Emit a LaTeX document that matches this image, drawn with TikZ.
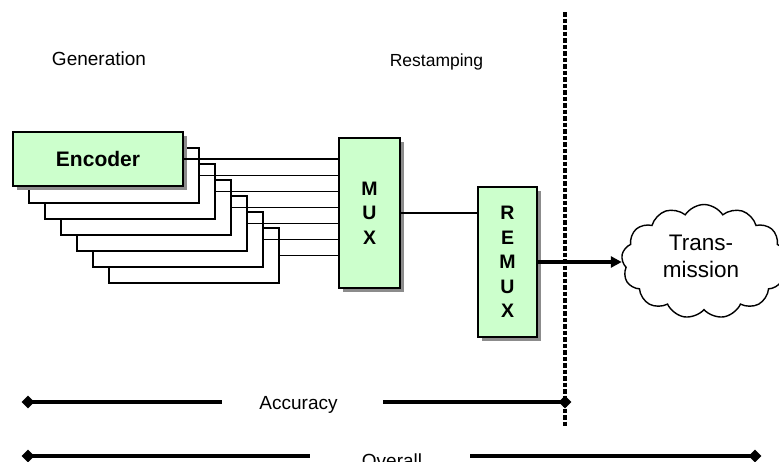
\documentclass[tikz,border=0pt]{standalone}
\usepackage{fontspec}
\setmainfont{Liberation Sans}
\usetikzlibrary{shapes.geometric,shapes.symbols,shadows,arrows.meta}
\definecolor{boxgreen}{RGB}{204,255,204}
\newcommand\lblfont{\fontsize{19}{23}\selectfont}
\newcommand\rstfont{\fontsize{17.5}{21}\selectfont}
\newcommand\encfont{\fontsize{21}{25}\selectfont\bfseries}
\newcommand\muxfont{\fontsize{19.5}{24.5}\selectfont\bfseries}
\newcommand\cloudfont{\fontsize{22.5}{27}\selectfont}
\begin{document}
\begin{tikzpicture}[x=1pt,y=-1pt,
  gbox/.style={draw=black,line width=1.8pt,fill=boxgreen,inner sep=0pt,
    drop shadow={shadow xshift=3.5pt,shadow yshift=-3.5pt,fill=black!45,opacity=1}},
  encframe/.style={draw=black,line width=1.5pt,fill=white,minimum width=170pt,minimum height=55pt,inner sep=0pt},
  wire/.style={draw=black,line width=1.2pt},
  dim/.style={line width=3.5pt},
  dia/.style={diamond,fill=black,inner sep=0pt,minimum width=13pt,minimum height=13pt},
  lbl/.style={font=\lblfont,anchor=base,inner sep=0pt}]
\useasboundingbox (0,0) rectangle (779,461);
% stacked encoder frames
\foreach \i in {6,5,...,1}
  \node[encframe] (f\i) at ({98+16*\i},{159.5+16*\i}) {};
\node[gbox,minimum width=170pt,minimum height=54pt,font=\encfont] (enc) at (98,159) {Encoder};
% MUX and REMUX
\node[gbox,minimum width=61pt,minimum height=150pt,align=center,font=\muxfont] (mux) at (369.5,213) {M\\U\\X};
\node[gbox,minimum width=59pt,minimum height=150pt,align=center,font=\muxfont] (remux) at (507.5,262) {R\\E\\M\\U\\X};
% wires
\draw[wire] (enc.east) -- (enc.east -| mux.west);
\foreach \i in {1,...,6}
  \draw[wire] (f\i.east) -- (f\i.east -| mux.west);
\draw[wire] (mux.east) -- (mux.east -| remux.west);
% cloud
\node[cloud,draw=black,line width=1.4pt,cloud puffs=13,cloud puff arc=115,cloud ignores aspect,
  minimum width=165pt,minimum height=114pt,inner sep=0pt,fill=white] (cl) at (704,261.5) {};
\node[font=\cloudfont,align=center,inner sep=0pt] (tx) at (701,256) {Trans-\\mission};
\draw[line width=3.3pt,-{Triangle[length=11pt,width=11pt]}] (remux.east) -- (remux.east -| cl.west);
% dashed boundary
\coordinate (dtop) at (565,12);
\coordinate (dbot) at (565,426);
\draw[line width=3.3pt,dash pattern=on 4.5pt off 2pt] (dtop) -- (dbot);
% labels
\node[lbl] (gen) at (99,65) {Generation};
\node[lbl,font=\rstfont] (rst) at (436.5,66) {Restamping};
% accuracy
\node[dia] (a1) at (28,402) {};
\node[dia] (a2) at (565,402) {};
\coordinate (a1e) at (222,402);
\coordinate (a2s) at (383,402);
\draw[dim] (a1.center) -- (a1e);
\draw[dim] (a2s) -- (a2.center);
\node[lbl] (acc) at (298.5,409) {Accuracy};
% overall
\node[dia] (o1) at (28,456) {};
\node[dia] (o2) at (755,456) {};
\coordinate (o1e) at (310,456);
\coordinate (o2s) at (470,456);
\draw[dim] (o1.center) -- (o1e);
\draw[dim] (o2s) -- (o2.center);
\node[lbl] (ovr) at (392,467) {Overall};
\end{tikzpicture}
\end{document}
